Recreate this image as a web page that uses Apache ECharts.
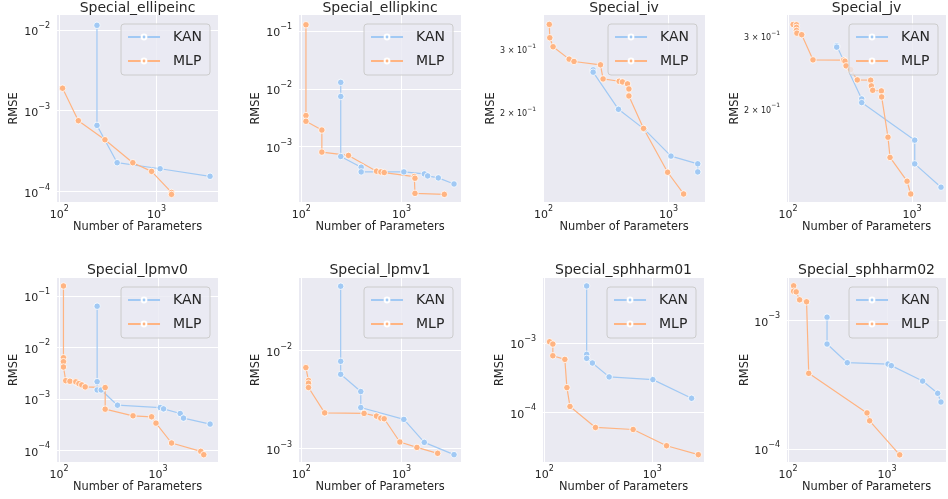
<!DOCTYPE html>
<html><head><meta charset="utf-8">
<script src="https://cdn.jsdelivr.net/npm/echarts@6/dist/echarts.min.js"></script>
<style>html,body{margin:0;padding:0;background:#fff}#c{width:948px;height:499px}</style>
</head><body><div id="c"></div><script>
// ---------------- data ----------------
const titles = ['Special_ellipeinc','Special_ellipkinc','Special_iv','Special_jv',
                'Special_lpmv0','Special_lpmv1','Special_sphharm01','Special_sphharm02'];
const seriesNames = ['KAN', 'MLP'];

const ellipeincKAN = [[244,0.01143],[244,6.58e-4],[394,2.27e-4],[1091,1.91e-4],[3565,1.54e-4]];
const ellipeincMLP = [[108,1.90e-3],[157,7.52e-4],[295,4.37e-4],[571,2.27e-4],[891,1.77e-4],[1429,9.72e-5],[1429,9.19e-5]];

const ellipkincKAN = [[247,0.01288],[247,7.36e-3],[247,6.79e-4],[395,4.44e-4],[395,3.68e-4],[1055,3.68e-4],[1686,3.40e-4],[1820,3.14e-4],[2326,2.90e-4],[3337,2.28e-4]];
const ellipkincMLP = [[111,0.127],[111,3.45e-3],[111,2.75e-3],[160,1.94e-3],[160,8.09e-4],[295,7.08e-4],[562,3.79e-4],[621,3.68e-4],[671,3.59e-4],[1339,3.06e-4],[1360,2.86e-4],[1360,1.57e-4],[2670,1.51e-4]];

const ivKAN = [[249,0.2624],[249,0.2585],[397,0.2035],[641,0.1788],[1045,0.1505],[1710,0.1432],[1710,0.1359]];
const ivMLP = [[111,0.3518],[112,0.3228],[119,0.3046],[160,0.2812],[175,0.2770],[285,0.2711],[299,0.2475],[402,0.2438],[427,0.2428],[469,0.2397],[481,0.2320],[481,0.2218],[630,0.1799],[982,0.1356],[1318,0.1179]];

const jvKAN = [[247,0.2846],[247,0.2825],[393,0.2112],[393,0.2069],[1052,0.1676],[1052,0.1467],[1713,0.1287]];
const jvMLP = [[110,0.3208],[117,0.3202],[117,0.3155],[117,0.3102],[118,0.3055],[129,0.3029],[159,0.2630],[281,0.2626],[288,0.2611],[294,0.2543],[320,0.2490],[362,0.2350],[464,0.2346],[470,0.2272],[482,0.2217],[566,0.2209],[569,0.2136],[640,0.1704],[665,0.1521],[912,0.1331],[976,0.1239]];

const lpmv0KAN = [[243,0.0631],[243,2.16e-3],[243,1.49e-3],[267,1.49e-3],[390,7.54e-4],[1055,6.79e-4],[1140,6.40e-4],[1679,5.20e-4],[1813,4.23e-4],[3365,3.24e-4]];
const lpmv0MLP = [[111,0.156],[111,6.31e-3],[111,5.28e-3],[111,4.16e-3],[117,2.26e-3],[129,2.20e-3],[148,2.14e-3],[159,1.98e-3],[170,1.87e-3],[184,1.71e-3],[293,1.66e-3],[293,6.31e-4],[560,4.69e-4],[863,4.49e-4],[955,3.38e-4],[1374,1.39e-4],[2710,9.57e-5],[2904,8.24e-5]];

const lpmv1KAN = [[247,0.0455],[247,7.79e-3],[247,5.74e-3],[392,3.83e-3],[392,2.63e-3],[1055,1.99e-3],[1686,1.16e-3],[3337,8.69e-4]];
const lpmv1MLP = [[111,6.72e-3],[118,4.96e-3],[118,4.66e-3],[118,4.21e-3],[171,2.32e-3],[423,2.29e-3],[562,2.15e-3],[621,2.05e-3],[671,2.02e-3],[962,1.17e-3],[1423,1.03e-3],[2291,8.97e-4]];

const sphharm01KAN = [[247,6.71e-3],[247,6.87e-4],[247,6.01e-4],[279,5.15e-4],[399,3.24e-4],[1014,2.96e-4],[2317,1.59e-4]];
const sphharm01MLP = [[112,1.045e-3],[120,9.68e-4],[120,6.56e-4],[155,5.81e-4],[162,2.27e-4],[173,1.21e-4],[298,6.01e-5],[666,5.62e-5],[1358,3.27e-5],[2674,2.43e-5]];

const sphharm02KAN = [[248,1.055e-3],[248,6.52e-4],[397,4.67e-4],[1024,4.56e-4],[1106,4.43e-4],[2291,3.36e-4],[3251,2.70e-4],[3508,2.31e-4]];
const sphharm02MLP = [[114,1.85e-3],[114,1.68e-3],[121,1.66e-3],[131,1.44e-3],[154,1.39e-3],[162,3.86e-4],[628,1.90e-4],[668,1.65e-4],[1343,8.97e-5]];

// axis limits (log10 exponents)
const xLimits = [[1.976,3.634],[1.976,3.593],[1.995,3.291],[1.992,3.274],
                 [1.980,3.607],[1.977,3.593],[1.988,3.480],[1.990,3.596]];
const yLimits = [[-4.131,-1.814],[-3.953,-0.728],[-0.951,-0.4274],[-0.9265,-0.4707],
                 [-4.226,-0.652],[-3.136,-1.258],[-4.721,-2.058],[-4.103,-2.672]];
// tick labels
const xTickValues = [100, 1000];
const yTickValues = [[1e-4,1e-3,1e-2],[1e-3,1e-2,1e-1],[0.2,0.3],[0.2,0.3],
                     [1e-4,1e-3,1e-2,1e-1],[1e-3,1e-2],[1e-4,1e-3],[1e-4,1e-3]];
const xLabel = 'Number of Parameters';
const yLabel = 'RMSE';

const kanData = [ellipeincKAN, ellipkincKAN, ivKAN, jvKAN, lpmv0KAN, lpmv1KAN, sphharm01KAN, sphharm02KAN];
const mlpData = [ellipeincMLP, ellipkincMLP, ivMLP, jvMLP, lpmv0MLP, lpmv1MLP, sphharm01MLP, sphharm02MLP];

// ---------------- layout & style ----------------
const W = 948;
const boxes = [[57,15,161,187],[299,15,162,187],[543,15,162,187],[787,15,159,187],
               [57,278,161,184],[299,278,162,184],[543,278,161,184],[787,278,159,184]];
const titleTop = [1, 263];
const majorGrid = [true,true,false,false,true,true,true,true];
const yNameGap = [37,37,46,46,37,37,37,36];
const FONT = 'DejaVu Sans';
const TXT = '#262626';
const BLUE = '#a1c9f4', ORANGE = '#ffb482';

const rich = {
  b: {fontSize: 11, fontFamily: FONT, color: TXT, lineHeight: 16, verticalAlign: 'bottom'},
  s: {fontSize: 8, fontFamily: FONT, color: TXT, lineHeight: 8, verticalAlign: 'top'},
  m: {fontSize: 8, fontFamily: FONT, color: TXT, lineHeight: 12, verticalAlign: 'bottom'},
  t: {fontSize: 6, fontFamily: FONT, color: TXT, lineHeight: 6, verticalAlign: 'top'}
};
function fmt(v) {
  const e = Math.floor(Math.log10(v) + 1e-9);
  const m = v / Math.pow(10, e);
  const es = (e < 0 ? '\u2212' : '') + Math.abs(e);
  if (Math.abs(m - 1) < 1e-6) return '{b|10}{s|' + es + '}';
  return '{m|' + Math.round(m) + ' \u00d7 10}{t|' + es + '}';
}

const option = {animation: false, backgroundColor: '#ffffff',
  title: [], grid: [], xAxis: [], yAxis: [], legend: [], series: []};

for (let i = 0; i < 8; i++) {
  const [l, t, w, h] = boxes[i];
  option.title.push({text: titles[i], left: l + w / 2, top: titleTop[i < 4 ? 0 : 1], textAlign: 'center', padding: 0,
    textStyle: {fontSize: 14, fontWeight: 'normal', color: TXT, fontFamily: FONT}});
  option.grid.push({left: l, top: t, width: w, height: h, show: true,
    backgroundColor: '#eaeaf2', borderWidth: 0, containLabel: false});
  option.xAxis.push({type: 'log', logBase: 10, gridIndex: i,
    min: Math.pow(10, xLimits[i][0]), max: Math.pow(10, xLimits[i][1]),
    axisLine: {show: false}, axisTick: {show: false, customValues: xTickValues},
    axisLabel: {customValues: xTickValues, formatter: fmt, rich: rich, margin: 3},
    splitLine: {show: true, lineStyle: {color: '#ffffff', width: 1}},
    name: xLabel, nameLocation: 'middle', nameGap: 18,
    nameTextStyle: {fontSize: 11.4, color: TXT, fontFamily: FONT}});
  option.yAxis.push({type: 'log', logBase: 10, gridIndex: i,
    min: Math.pow(10, yLimits[i][0]), max: Math.pow(10, yLimits[i][1]),
    axisLine: {show: false}, axisTick: {show: false, customValues: yTickValues[i]},
    axisLabel: {customValues: yTickValues[i], formatter: fmt, rich: rich, margin: 7},
    splitLine: {show: majorGrid[i], lineStyle: {color: '#ffffff', width: 1}},
    name: yLabel, nameLocation: 'middle', nameGap: yNameGap[i],
    nameTextStyle: {fontSize: 11.4, color: TXT, fontFamily: FONT}});
  option.legend.push({data: seriesNames, orient: 'vertical', right: W - (l + w - 8), top: t + 9,
    itemWidth: 32, itemHeight: 6, itemGap: 10, selectedMode: false,
    backgroundColor: 'rgba(234,234,242,0.8)', borderColor: '#cccccc', borderWidth: 1, borderRadius: 3,
    padding: [6, 8, 7, 6],
    textStyle: {fontSize: 14, color: TXT, fontFamily: FONT, lineHeight: 14, padding: [0, 0, 0, 8]}});
  [[seriesNames[0], kanData[i], BLUE], [seriesNames[1], mlpData[i], ORANGE]].forEach(([n, d, c]) => {
    option.series.push({name: n, type: 'line', xAxisIndex: i, yAxisIndex: i, data: d,
      symbol: 'circle', symbolSize: 6.5, showSymbol: true, clip: false,
      lineStyle: {color: c, width: 1.2},
      itemStyle: {color: c, borderColor: '#ffffff', borderWidth: 0.8},
      emphasis: {disabled: true}});
  });
}
const chart = echarts.init(document.getElementById('c'), null, {renderer: 'canvas'});
chart.setOption(option);
</script></body></html>
